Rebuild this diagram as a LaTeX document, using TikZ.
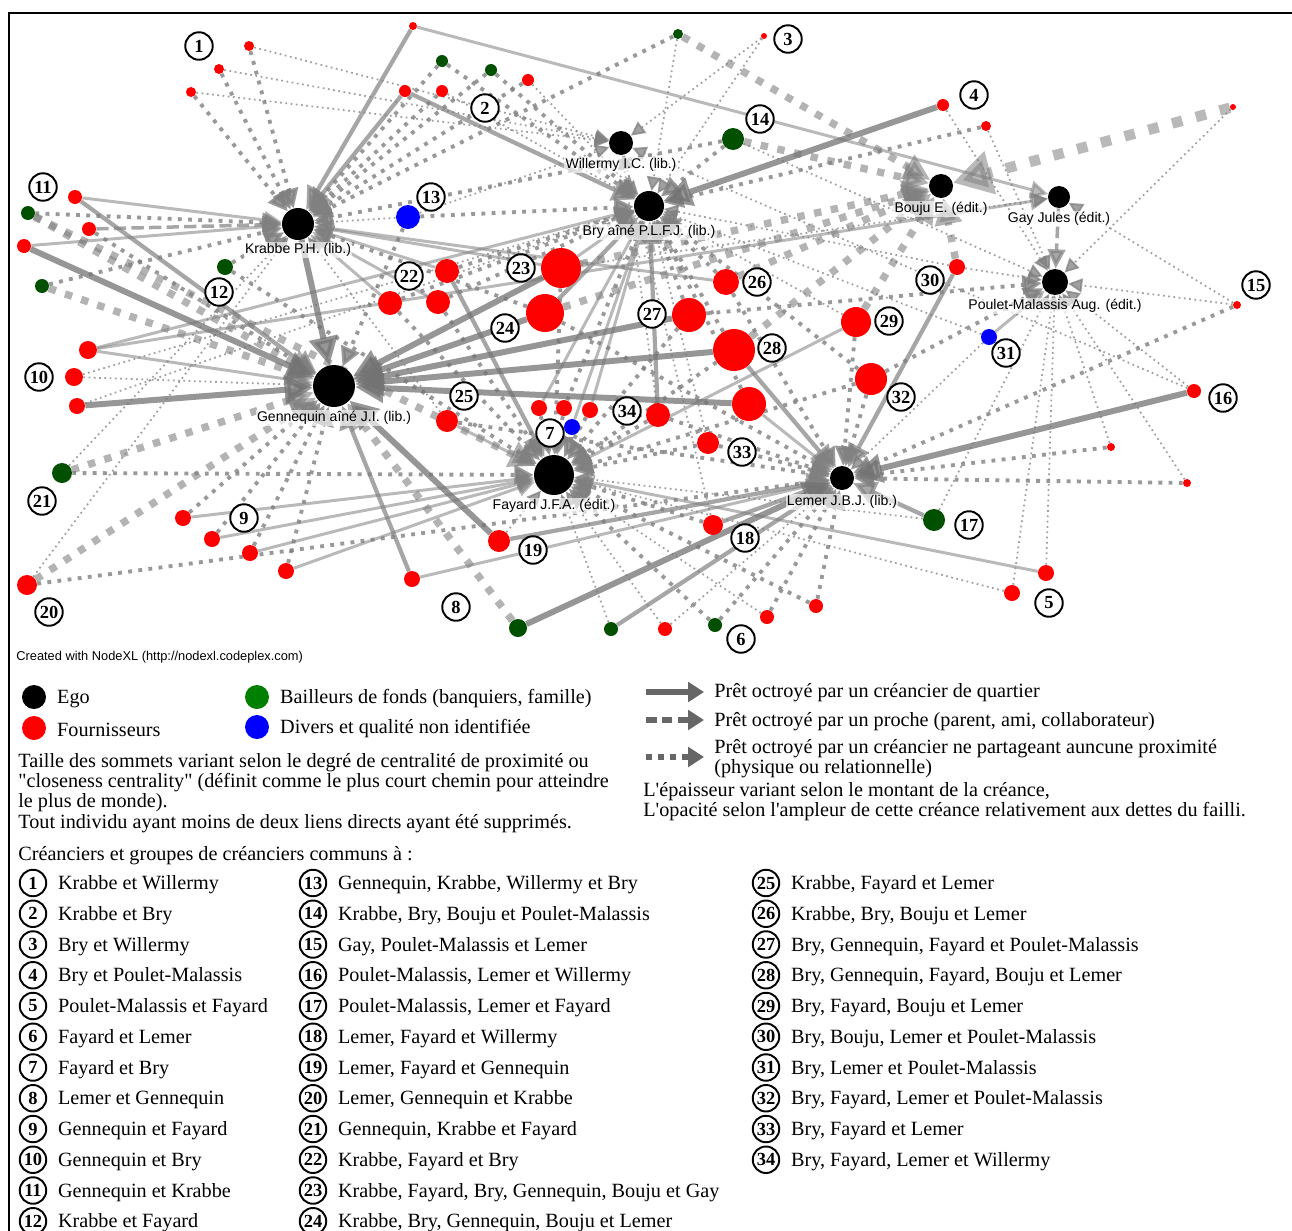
\documentclass[tikz,border=0pt]{standalone}
\usepackage{fontspec}
\setmainfont{Liberation Serif}
\newfontfamily\arialf{Liberation Sans}
\usetikzlibrary{arrows.meta,backgrounds,positioning}
\definecolor{vertfonce}{RGB}{0,80,0}
\definecolor{vertclair}{RGB}{0,128,0}
\tikzset{
  ego/.style={circle,fill=black,inner sep=0pt,minimum size=#1*0.4mm},
  four/.style={circle,fill=red,inner sep=0pt,minimum size=#1*0.4mm},
  bail/.style={circle,fill=vertfonce,inner sep=0pt,minimum size=#1*0.4mm},
  divers/.style={circle,fill=blue,inner sep=0pt,minimum size=#1*0.4mm},
  nom/.style={font=\arialf\fontsize{8}{9}\selectfont,fill=white,fill opacity=.65,text opacity=1,inner sep=.8pt},
  num/.style={circle,draw,line width=1.1pt,fill=white,inner sep=0pt,minimum size=5.5mm,font=\bfseries\fontsize{10.5}{10.5}\selectfont},
  ql/.style={draw=gray,opacity=.55,line width=1.7pt,-{Triangle[length=10pt,width=10pt]}},
  qm/.style={draw=gray,opacity=.7,line width=2.4pt,-{Triangle[length=13pt,width=13pt]}},
  qf/.style={draw=black!55,opacity=.75,line width=3.4pt,-{Triangle[length=16pt,width=16pt]}},
  pr/.style={draw=gray,opacity=.7,line width=2pt,dash pattern=on 7pt off 3pt,-{Triangle[length=11pt,width=10pt]}},
  pa/.style={draw=gray,opacity=.75,line width=1pt,dash pattern=on 1pt off 2pt,-{Triangle[length=8pt,width=8pt]}},
  pb/.style={draw=gray,opacity=.8,line width=2.2pt,dash pattern=on 2.2pt off 3.6pt,-{Triangle[length=11pt,width=11pt]}},
  pc/.style={draw=gray,opacity=.6,line width=4.2pt,dash pattern=on 4.2pt off 5.5pt,-{Triangle[length=15pt,width=15pt]}},
  pd/.style={draw=gray,opacity=.55,line width=6pt,dash pattern=on 6pt off 8pt,-{Triangle[length=22pt,width=24pt]}},
  ltxt/.style={font=\fontsize{11.5}{12}\selectfont,inner sep=0pt,yshift=-1pt},
  lnum/.style={num,minimum size=5.3mm},
  lfl/.style={draw=black!60,line width=3.4pt,-{Triangle[length=9pt,width=11pt]}}
}
\begin{document}
\begin{tikzpicture}[x=0.02cm,y=-0.02cm]
\useasboundingbox (0,0) rectangle (1292,1231);
\draw[line width=1.1pt] (9,1231) -- (9,13) -- (1292,13);

\node[ego=16] (kr) at (298,224) {};
\node[ego=12] (wi) at (621,143) {};
\node[ego=15] (br) at (649,206) {};
\node[ego=12] (bo) at (941,186) {};
\node[ego=11] (ga) at (1059,197) {};
\node[ego=13] (pm) at (1055,282) {};
\node[ego=21] (ge) at (334,386) {};
\node[ego=20] (fa) at (554,475) {};
\node[ego=12] (le) at (842,478) {};

\foreach \n/\x/\y/\r in {1/249/46/5,2/219/69/5,3/191/92/5,4/413/26/4,5/405/91/6,6/442/91/6,7/528/80/6,8/764/36/3,
  9/943/105/6,10/986/126/5,11/1233/107/3,12/75/197/7,13/89/229/7,14/24/246/7,15/88/350/9,16/74/377/9,
  17/77/406/8,18/183/518/8,19/212/539/8,20/250/553/8,21/286/571/8,22/27/585/10,23/412/579/8,24/447/271/12,
  25/390/303/12,26/438/302/12,27/561/268/20,28/545/313/19,29/726/282/13,30/689/315/17,31/734/350/21,
  32/856/322/15,33/871/379/16,34/749/404/17,35/447/421/11,36/539/408/8,37/564/408/8,38/590/410/8,
  39/658/415/12,40/708/443/11,41/713/525/10,42/499/541/11,43/957/267/8,44/1237/305/4,45/1194/391/7,
  46/1111/447/4,47/1187/483/4,48/1046/573/8,49/1012/593/8,50/665/629/7,51/767/617/7,52/816/606/7}
  \node[four=\r] (r\n) at (\x,\y) {};
\foreach \n/\x/\y/\r in {1/442/61/6,2/491/70/6,3/678/34/5,4/733/139/11,5/28/213/7,6/225/267/8,7/42/286/7,
  8/62/473/10,9/934/520/11,10/518/628/9,11/611/629/7,12/715/625/7}
  \node[bail=\r] (v\n) at (\x,\y) {};
\foreach \n/\x/\y/\r in {1/408/217/12,2/572/427/8,3/989/337/8}
  \node[divers=\r] (b\n) at (\x,\y) {};

\begin{scope}[on background layer]
\foreach \a/\b in {r1/wi,r2/wi,r3/wi,r6/br,r7/br,r8/wi,r8/br,r9/pm,r10/pm,r11/pm,v4/pm,b1/kr,b1/wi,
  r16/ge,r16/br,r17/br,v8/kr,r22/kr,r42/fa,r41/wi,v11/fa,r50/fa,r50/le,r51/fa,v9/fa,v9/pm,r48/pm,
  r49/fa,r49/pm,r45/pm,r45/wi,r46/pm,r47/pm,r44/pm,r44/ga,b3/le,b3/br,r43/pm,r43/br,r32/br,r35/kr,
  r27/ga,r39/wi,r40/br,v3/br}
  \draw[pa] (\a) -- (\b);
\foreach \a/\b in {r1/kr,r2/kr,r3/kr,r6/kr,v1/kr,v1/br,v2/kr,v2/br,r7/kr,r10/br,v3/kr,v4/kr,v4/br,
  b1/ge,b1/br,v5/kr,r13/ge,v6/kr,v6/fa,v7/kr,v8/fa,r22/le,r18/ge,r19/ge,r20/ge,r21/ge,r41/fa,v12/fa,
  v12/le,r51/le,r52/fa,r52/le,r46/le,r47/le,r44/le,r33/le,r33/pm,r33/fa,r33/br,r32/le,r31/br,r31/fa,
  r30/br,r30/fa,r30/pm,r29/br,r29/le,r35/le,r28/kr,r28/le,r27/fa,r24/br,r25/fa,r25/br,r26/fa,r26/br,
  r36/fa,r37/fa,r38/fa,r37/br,r39/fa,r39/le,r40/fa,r40/le,r34/br}
  \draw[pb] (\a) -- (\b);
\foreach \a/\b in {v3/bo,v4/bo,v5/fa,v5/ge,v7/ge,v8/ge,r22/ge,v10/ge,r43/bo,r32/bo,r31/bo,r29/bo,
  r28/bo,r27/bo}
  \draw[pc] (\a) -- (\b);
\draw[pd] (r11) -- (bo);
\foreach \a/\b in {r4/ga,r12/kr,r14/kr,r15/ge,r15/br,r15/ga,r18/fa,r19/fa,r20/fa,r21/fa,r48/fa,b3/pm,
  r32/fa,r29/kr,r35/fa,r27/kr,r27/br,r24/kr,r25/kr,r26/kr,b2/br,r34/le,r36/br,r38/br,r23/le}
  \draw[ql] (\a) -- (\b);
\foreach \a/\b in {r4/kr,r5/kr,r5/br,r12/ge,r23/ge,r42/le,r41/le,v11/le,v9/le,r43/le,r31/le,r28/br,
  r24/fa,r39/br}
  \draw[qm] (\a) -- (\b);
\foreach \a/\b in {r9/br,r14/ge,r17/ge,v10/le,r42/ge,r45/le,r31/ge,r30/ge,r28/ge,r27/ge,r34/ge,kr/ge}
  \draw[qf] (\a) -- (\b);
\draw[pr] (r13) -- (kr);
\draw[pr] (ga) -- (pm);
\end{scope}

\node[nom] (krn) at (298,250) {Krabbe P.H. (lib.)};
\node[nom] (win) at (621,165) {Willermy I.C. (lib.)};
\node[nom] (brn) at (649,232) {Bry aîné P.L.F.J. (lib.)};
\node[nom] (bon) at (941,209) {Bouju E. (édit.)};
\node[nom] (gan) at (1059,219) {Gay Jules (édit.)};
\node[nom] (pmn) at (1055,306) {Poulet-Malassis Aug. (édit.)};
\node[nom] (gen) at (334,418) {Gennequin aîné J.I. (lib.)};
\node[nom] (fan) at (554,506) {Fayard J.F.A. (édit.)};
\node[nom] (len) at (842,502) {Lemer J.B.J. (lib.)};

\foreach \i/\x/\y in {1/199/46,2/485/108,3/788/39,4/974/95,5/1049/603,6/741/639,7/550/433,8/456/607,
  9/244/518,10/39/377,11/43/187,12/219/292,13/431/197,14/760/119,15/1256/285,16/1223/398,17/969/525,
  18/745/538,19/533/550,20/49/612,21/42/501,22/409/276,23/521/268,24/505/328,25/464/396,26/757/282,
  27/652/314,28/772/348,29/889/321,30/930/280,31/1006/353,32/901/397,33/742/452,34/627/411}
  \node[num] (n\i) at (\x,\y) {\i};

\node[anchor=west,inner sep=0pt,font=\arialf\fontsize{7.3}{8}\selectfont] (nodexl) at (16,657) {Created with NodeXL (http://nodexl.codeplex.com)};

\node[ego=12] (lego) at (34,697) {};
\node[ltxt,right=2.1mm of lego] (tego) {Ego};
\node[four=12] (lfour) at (34,728) {};
\node[ltxt,right=2.1mm of lfour] (tfour) {Fournisseurs};
\node[circle,fill=vertclair,inner sep=0pt,minimum size=4.8mm] (lbail) at (257,697) {};
\node[ltxt,right=2.1mm of lbail] (tbail) {Bailleurs de fonds (banquiers, famille)};
\node[divers=12] (ldiv) at (257,727) {};
\node[ltxt,right=2.1mm of ldiv] (tdiv) {Divers et qualité non identifiée};
\node[ltxt,anchor=north west,align=left,font=\fontsize{11.5}{11.6}\selectfont] (taille) at (18,751)
  {Taille des sommets variant selon le degré de centralité de proximité ou\\
   \textquotedbl closeness centrality\textquotedbl{} (définit comme le plus court chemin pour atteindre\\
   le plus de monde).\\
   Tout individu ayant moins de deux liens directs ayant été supprimés.};

\coordinate (fa1) at (646,692); \coordinate (fa2) at (704,692);
\coordinate (fb1) at (646,720); \coordinate (fb2) at (704,720);
\coordinate (fc1) at (646,757); \coordinate (fc2) at (704,757);
\draw[lfl] (fa1) -- (fa2);
\draw[lfl,dash pattern=on 6pt off 3pt] (fb1) -- (fb2);
\draw[lfl,dash pattern=on 3.4pt off 3.4pt] (fc1) -- (fc2);
\node[ltxt,anchor=west] (tfa) at (714,691) {Prêt octroyé par un créancier de quartier};
\node[ltxt,anchor=west] (tfb) at (714,720) {Prêt octroyé par un proche (parent, ami, collaborateur)};
\node[ltxt,anchor=west,align=left,font=\fontsize{11.5}{11.6}\selectfont] (tfc) at (714,757)
  {Prêt octroyé par un créancier ne partageant auncune proximité\\(physique ou relationnelle)};
\node[ltxt,anchor=west,align=left,font=\fontsize{11.5}{11.6}\selectfont] (tep) at (643,800)
  {L\textquotesingle épaisseur variant selon le montant de la créance,\\L\textquotesingle opacité selon l\textquotesingle ampleur de cette créance relativement aux dettes du failli.};

\node[ltxt,anchor=west] (tcre) at (18,854) {Créanciers et groupes de créanciers communs à :};
\foreach \i/\t in {1/Krabbe et Willermy,2/Krabbe et Bry,3/Bry et Willermy,4/Bry et Poulet-Malassis,
  5/Poulet-Malassis et Fayard,6/Fayard et Lemer,7/Fayard et Bry,8/Lemer et Gennequin,
  9/Gennequin et Fayard,10/Gennequin et Bry,11/Gennequin et Krabbe,12/Krabbe et Fayard}
{
  \node[lnum] (l\i) at (33,{883+30.75*(\i-1)}) {\i};
  \node[ltxt,right=2.1mm of l\i] (t\i) {\t};
}
\foreach \i/\t in {13/{Gennequin, Krabbe, Willermy et Bry},14/{Krabbe, Bry, Bouju et Poulet-Malassis},
  15/{Gay, Poulet-Malassis et Lemer},16/{Poulet-Malassis, Lemer et Willermy},
  17/{Poulet-Malassis, Lemer et Fayard},18/{Lemer, Fayard et Willermy},19/{Lemer, Fayard et Gennequin},
  20/{Lemer, Gennequin et Krabbe},21/{Gennequin, Krabbe et Fayard},22/{Krabbe, Fayard et Bry},
  23/{Krabbe, Fayard, Bry, Gennequin, Bouju et Gay},24/{Krabbe, Bry, Gennequin, Bouju et Lemer}}
{
  \node[lnum] (l\i) at (313,{883+30.75*(\i-13)}) {\i};
  \node[ltxt,right=2.1mm of l\i] (t\i) {\t};
}
\foreach \i/\t in {25/{Krabbe, Fayard et Lemer},26/{Krabbe, Bry, Bouju et Lemer},
  27/{Bry, Gennequin, Fayard et Poulet-Malassis},28/{Bry, Gennequin, Fayard, Bouju et Lemer},
  29/{Bry, Fayard, Bouju et Lemer},30/{Bry, Bouju, Lemer et Poulet-Malassis},
  31/{Bry, Lemer et Poulet-Malassis},32/{Bry, Fayard, Lemer et Poulet-Malassis},
  33/{Bry, Fayard et Lemer},34/{Bry, Fayard, Lemer et Willermy}}
{
  \node[lnum] (l\i) at (766,{883+30.75*(\i-25)}) {\i};
  \node[ltxt,right=2.1mm of l\i] (t\i) {\t};
}
\end{tikzpicture}
\end{document}
